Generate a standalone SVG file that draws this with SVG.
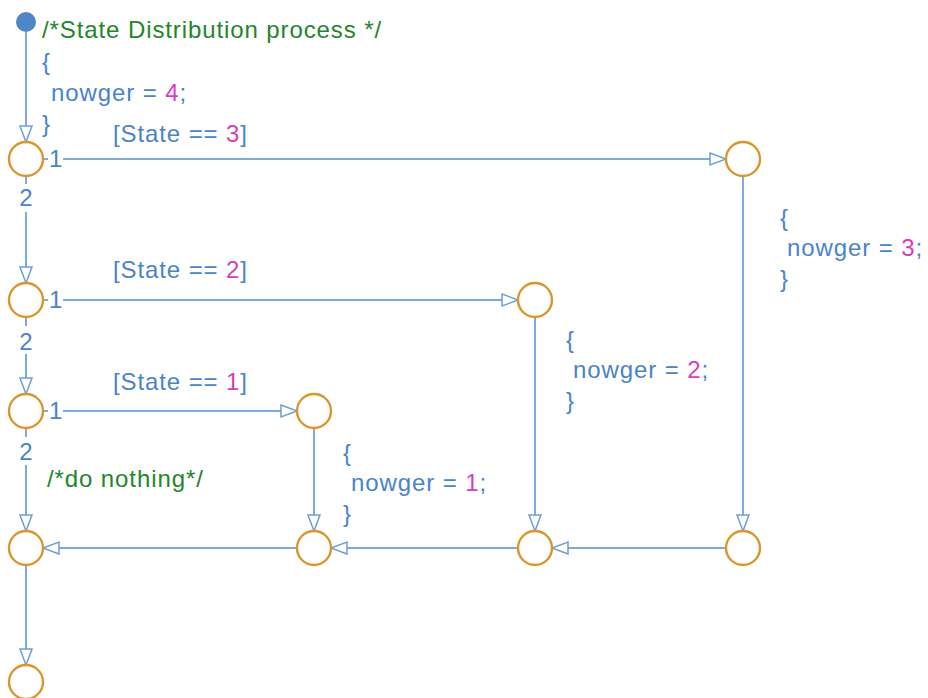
<svg xmlns="http://www.w3.org/2000/svg" width="928" height="698" viewBox="0 0 928 698">
<style>
.t{font-family:"Liberation Sans",Arial,sans-serif;font-size:24px;letter-spacing:0.9px;fill:#4a84c8}
.g{fill:#23862a}
.m{fill:#d43fc0}
.n{font-family:"Liberation Sans",Arial,sans-serif;font-size:24px;fill:#4a84c8}
.j{fill:#fff;stroke:#d9962b;stroke-width:2.4}
.c{fill:none;stroke:#7faadf;stroke-width:2}
</style>
<defs>
<marker id="ah" markerUnits="userSpaceOnUse" markerWidth="20" markerHeight="14" refX="16" refY="6" orient="auto" overflow="visible">
<path d="M0,0 L16,6 L0,12 Z" fill="#fff" stroke="#6f9fd8" stroke-width="1.5"/>
</marker>
</defs>
<rect width="928" height="698" fill="#fff"/>
<g id="connectors">
<path class="c" d="M26,32 V142" marker-end="url(#ah)"/>
<path class="c" d="M43,159 H48 M63,159 H726" marker-end="url(#ah)"/>
<path class="c" d="M26,176 V184 M26,212 V283" marker-end="url(#ah)"/>
<path class="c" d="M43,300 H48 M63,300 H518" marker-end="url(#ah)"/>
<path class="c" d="M26,317 V326 M26,354 V394" marker-end="url(#ah)"/>
<path class="c" d="M43,411 H48 M63,411 H297" marker-end="url(#ah)"/>
<path class="c" d="M26,428 V437 M26,465 V531" marker-end="url(#ah)"/>
<path class="c" d="M743,176 V531" marker-end="url(#ah)"/>
<path class="c" d="M535,317 V531" marker-end="url(#ah)"/>
<path class="c" d="M314,428 V531" marker-end="url(#ah)"/>
<path class="c" d="M726,548 H552" marker-end="url(#ah)"/>
<path class="c" d="M518,548 H331" marker-end="url(#ah)"/>
<path class="c" d="M297,548 H43" marker-end="url(#ah)"/>
<path class="c" d="M26,565 V665" marker-end="url(#ah)"/>
<text class="n" x="49" y="167">1</text>
<text class="n" x="49" y="308">1</text>
<text class="n" x="49" y="419">1</text>
<text class="n" x="26" y="206" text-anchor="middle">2</text>
<text class="n" x="26" y="350" text-anchor="middle">2</text>
<text class="n" x="26" y="460" text-anchor="middle">2</text>
<text class="t" x="42" y="38"><tspan class="g">/*State Distribution process */</tspan></text>
<text class="t" x="42" y="70">{</text>
<text class="t" x="51" y="101">nowger = <tspan class="m">4</tspan>;</text>
<text class="t" x="42" y="132">}</text>
<text class="t" x="113" y="142">[State == <tspan class="m">3</tspan>]</text>
<text class="t" x="113" y="278">[State == <tspan class="m">2</tspan>]</text>
<text class="t" x="113" y="390">[State == <tspan class="m">1</tspan>]</text>
<text class="t" x="47" y="487"><tspan class="g">/*do nothing*/</tspan></text>
<text class="t" x="780" y="226">{</text>
<text class="t" x="787" y="256">nowger = <tspan class="m">3</tspan>;</text>
<text class="t" x="780" y="287">}</text>
<text class="t" x="566" y="348">{</text>
<text class="t" x="573" y="378">nowger = <tspan class="m">2</tspan>;</text>
<text class="t" x="566" y="409">}</text>
<text class="t" x="343" y="461">{</text>
<text class="t" x="351" y="491">nowger = <tspan class="m">1</tspan>;</text>
<text class="t" x="343" y="522">}</text>
</g>
<g id="start"><circle cx="26" cy="22" r="10" fill="#4f86c6"/></g>
<g id="j1"><circle class="j" cx="26" cy="159" r="17"/></g>
<g id="j2"><circle class="j" cx="743" cy="159" r="17"/></g>
<g id="j3"><circle class="j" cx="26" cy="300" r="17"/></g>
<g id="j4"><circle class="j" cx="535" cy="300" r="17"/></g>
<g id="j5"><circle class="j" cx="26" cy="411" r="17"/></g>
<g id="j6"><circle class="j" cx="314" cy="411" r="17"/></g>
<g id="j7"><circle class="j" cx="26" cy="548" r="17"/></g>
<g id="j8"><circle class="j" cx="314" cy="548" r="17"/></g>
<g id="j9"><circle class="j" cx="535" cy="548" r="17"/></g>
<g id="j10"><circle class="j" cx="743" cy="548" r="17"/></g>
<g id="j11"><circle class="j" cx="26" cy="682" r="17"/></g>
</svg>
